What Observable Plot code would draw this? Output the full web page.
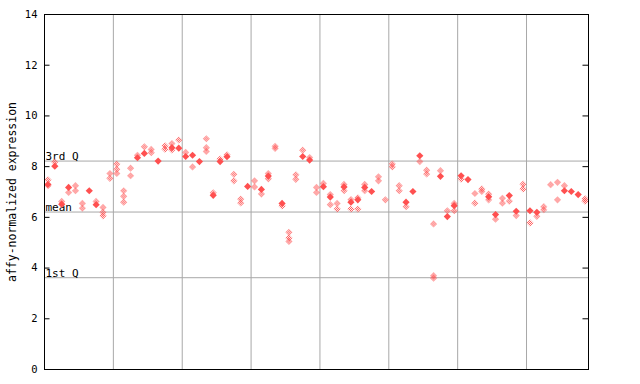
<!DOCTYPE html>
<html><head><meta charset="utf-8">
<script src="https://cdn.jsdelivr.net/npm/d3@7"></script>
<script src="https://cdn.jsdelivr.net/npm/@observablehq/plot@0.6"></script>
<style>body{margin:0;background:#fff}</style>
</head><body><div id="chart"></div>
<script>
// replicate values per sample (hatched diamonds)
const replicates = [
  [7.48,7.25],[8.18],[6.63],[6.98],[7.25,7.05],[6.55,6.36],[],[6.63],[6.39,6.2,6.06],[7.73,7.54],
  [8.1,7.9,7.73],[7.05,6.83,6.6],[7.94,7.64],[8.45],[8.78],[8.68,8.55],[],[8.82,8.69],[8.91,8.66],[9.05],
  [8.56],[7.99],[],[9.1,8.75,8.6],[6.97],[8.3],[8.47],[7.7,7.44],[6.72,6.57],[],
  [7.44,7.2],[6.92],[7.73,7.52],[8.8,8.72],[6.45],[5.41,5.19,5.05],[7.68,7.5],[8.65],[8.36],[7.18,6.98],
  [7.34],[6.9,6.5],[6.55,6.33],[7.3,7.05],[6.7,6.33],[6.77,6.33],[7.3,7.05],[],[7.6,7.44],[6.69],
  [8.1,7.99],[7.25,7.05],[6.42],[],[8.2],[7.86,7.71],[5.74,3.7,3.6],[7.84],[6.26],[6.55,6.26],
  [7.51],[],[6.94,6.56],[7.12,7.02],[6.92,6.69],[5.93],[6.75,6.56],[6.64],[6.07],[7.31,7.12],
  [5.78],[6.04],[6.42,6.3],[7.29],[7.38,6.69],[7.25],[],[],[6.73,6.64]
];
// filled diamonds per sample (null = none)
const filledValues = [
  7.3,8.02,6.52,7.18,null,null,7.05,6.5,null,null,
  null,null,null,8.35,8.52,null,8.22,null,8.75,8.73,
  8.4,8.45,8.2,null,6.87,8.2,8.39,null,null,7.22,
  null,7.1,7.63,null,6.55,null,null,8.4,8.26,null,
  7.21,6.8,null,7.2,6.6,6.69,7.18,7.02,null,null,
  null,null,6.6,7.02,8.43,null,null,7.62,6.03,6.46,
  7.64,7.49,null,null,6.81,6.11,null,6.86,6.24,null,
  6.26,6.2,null,null,null,7.05,7.02,6.9,null
];
const quartileLabels = ["3rd Q","mean","1st Q"];
const quartileValues = [8.22, 6.21, 3.62];
const yTicks = [0,2,4,6,8,10,12,14];
const gridX = [10,20,30,40,50,60,70];
const sampleCount = replicates.length;

const hatched = replicates.flatMap((vals,i)=>vals.map(v=>({i, v})));
const filled = filledValues.map((v,i)=>({i, v})).filter(d=>d.v!=null);

const diamond = { draw(ctx){ const h=3.6; ctx.moveTo(0,-h); ctx.lineTo(h,0); ctx.lineTo(0,h); ctx.lineTo(-h,0); ctx.closePath(); } };
const red = "#ff5050";

const chart = Plot.plot({
  width:640, height:384, marginLeft:44, marginRight:52, marginTop:14, marginBottom:15,
  style:{fontFamily:"DejaVu Sans Mono", fontSize:"10px", background:"white", color:"black"},
  x:{domain:[0,sampleCount], axis:null},
  y:{domain:[0,14]},
  marks:[
    Plot.ruleX(gridX, {stroke:"#a8a8a8", strokeWidth:1, strokeOpacity:1}),
    Plot.ruleY(quartileValues, {stroke:"#a8a8a8", strokeOpacity:1}),
    Plot.text(quartileLabels, {x:0, y:(d,i)=>quartileValues[i], text:d=>d, textAnchor:"start", lineAnchor:"bottom", dx:1, dy:-1, fontSize:11, fill:"black"}),
    Plot.dot(hatched, {x:d=>d.i+0.5, y:"v", symbol:diamond, r:3, fill:"url(#hatch)", stroke:"none"}),
    Plot.dot(filled, {x:d=>d.i+0.5, y:"v", symbol:diamond, r:3, fill:red, stroke:"none"}),
    Plot.frame({stroke:"black", strokeOpacity:1}),
    Plot.ruleY(yTicks, {x1:0, x2:0.8, stroke:"black"}),
    Plot.ruleY(yTicks, {x1:sampleCount-0.8, x2:sampleCount, stroke:"black"}),
    Plot.axisY(yTicks, {tickSize:0, tickPadding:7, fontSize:10.5, label:null}),
    Plot.axisY({ticks:[], tickSize:0, fontSize:11.5, label:"affy-normalized expression", labelAnchor:"center", labelOffset:37, labelArrow:"none"})
  ]
});

const ns = "http://www.w3.org/2000/svg";
const defs = document.createElementNS(ns, "defs");
const pat = document.createElementNS(ns, "pattern");
pat.setAttribute("id","hatch"); pat.setAttribute("patternUnits","userSpaceOnUse");
pat.setAttribute("width","2"); pat.setAttribute("height","2");
for (const [x,y] of [[0,0],[1,1]]) {
  const r = document.createElementNS(ns,"rect");
  r.setAttribute("x",x); r.setAttribute("y",y); r.setAttribute("width",1); r.setAttribute("height",1);
  r.setAttribute("fill", red);
  pat.appendChild(r);
}
defs.appendChild(pat);
chart.insertBefore(defs, chart.firstChild);
document.getElementById("chart").appendChild(chart);
</script></body></html>
